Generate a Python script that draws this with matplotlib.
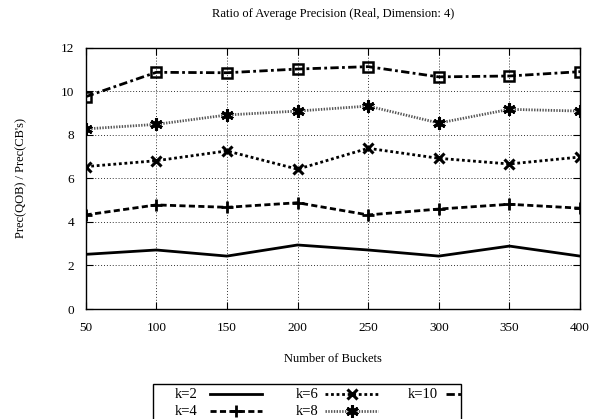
import matplotlib
matplotlib.use("Agg")
import matplotlib.pyplot as plt
from matplotlib.lines import Line2D
from matplotlib.patches import Rectangle

plt.rcParams['font.family'] = ['Liberation Serif', 'DejaVu Serif']

buckets = [50, 100, 150, 200, 250, 300, 350, 400]
k2 = [2.51, 2.71, 2.43, 2.94, 2.71, 2.43, 2.89, 2.43]
k4 = [4.32, 4.78, 4.67, 4.88, 4.32, 4.59, 4.81, 4.63]
k6 = [6.54, 6.81, 7.26, 6.42, 7.38, 6.92, 6.66, 6.98]
k8 = [8.27, 8.48, 8.91, 9.09, 9.32, 8.54, 9.17, 9.09]
k10 = [9.75, 10.87, 10.85, 11.02, 11.13, 10.66, 10.70, 10.90]
labels = ['k=2', 'k=4', 'k=6', 'k=8', 'k=10']

W, H = 594, 419
fig = plt.figure(figsize=(W / 100, H / 100), dpi=100)
ax = fig.add_axes([85.7 / W, 1 - 309 / H, (580 - 85.7) / W, (309 - 47.7) / H])

styles = [
    dict(color='black', lw=2.0, ls='-'),
    dict(color='black', lw=2.0, ls=(0, (2.2, 1.2)), marker='+', ms=9, mew=2.0),
    dict(color='black', lw=2.0, ls=(0, (1, 1)), marker='x', ms=7, mew=2.2),
    dict(color='#555555', lw=2.0, ls=(0, (0.5, 0.5)), marker=(6, 2, 0),
         ms=9, mew=2.2, mec='black'),
    dict(color='black', lw=2.0, ls=(0, (3, 1.2, 1, 1.2)), marker='s',
         ms=7, mew=1.8, mfc='none', mec='black'),
]

for ys, st, lab in zip([k2, k4, k6, k8, k10], styles, labels):
    ax.plot(buckets, ys, label=lab, **st)

ax.set_xlim(50, 400)
ax.set_ylim(0, 12)
ax.set_xticks(buckets)
ax.set_yticks(range(0, 13, 2))
ax.tick_params(axis='both', direction='in', length=5, labelsize=9.5,
               top=True, right=True)
ax.tick_params(axis='x', pad=9)
ax.tick_params(axis='y', pad=8.5)
ax.grid(True, ls=(0, (1, 2)), color='#333333', lw=0.7)
for s in ax.spines.values():
    s.set_linewidth(1.0)

ax.set_title('Ratio of Average Precision (Real, Dimension: 4)', fontsize=9, pad=22)
ax.set_xlabel('Number of Buckets', fontsize=9, labelpad=14)
ax.set_ylabel("Prec(QOB) / Prec(CB's)", fontsize=9, labelpad=24)

# key box below the plot, laid out in figure pixels
def fx(px):
    return px / W

def fy(py):
    return 1 - py / H

key_box = Rectangle((fx(153), fy(425)), fx(461) - fx(153), fy(384) - fy(425),
                    transform=fig.transFigure, fill=False,
                    edgecolor='black', lw=1.0)
fig.patches.append(key_box)
key_rows = [394, 411]
key_cols = [(175, 210, 262), (296, 325, 378), (408, 446, 498)]
slots = [(0, 0), (0, 1), (1, 0), (1, 1), (2, 0)]
for (c, r), st, lab in zip(slots, styles, labels):
    tx, x0, x1 = key_cols[c]
    y = fy(key_rows[r])
    fig.text(fx(tx), y, lab, fontsize=10.5, va='center', ha='left')
    line_st = {k: v for k, v in st.items() if k not in ('marker', 'ms', 'mew', 'mec', 'mfc')}
    ln = Line2D([fx(x0), fx(x1)], [y, y], transform=fig.transFigure, **line_st)
    ln.set_clip_path(key_box)
    fig.lines.append(ln)
    if 'marker' in st:
        mk = {k: v for k, v in st.items() if k in ('marker', 'ms', 'mew', 'mec', 'mfc')}
        mk.setdefault('mec', st['color'])
        pt = Line2D([fx((x0 + x1) / 2)], [y], transform=fig.transFigure,
                    ls='none', color=st['color'], **mk)
        pt.set_clip_path(key_box)
        fig.lines.append(pt)

fig.savefig('out.png', dpi=100)
